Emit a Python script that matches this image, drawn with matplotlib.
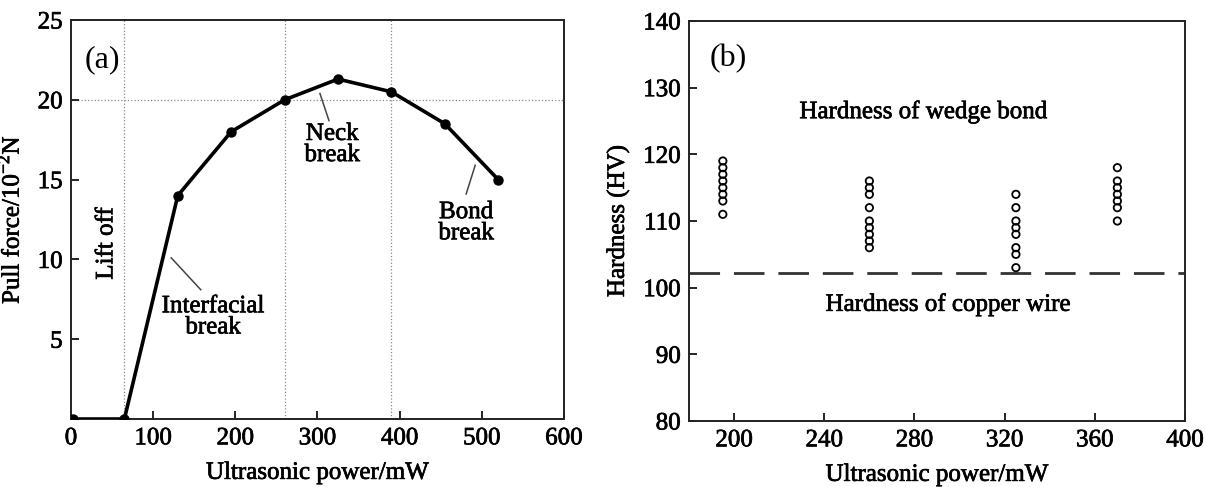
import matplotlib.pyplot as plt
import matplotlib.patheffects as pe

plt.rcParams['font.family'] = ['Liberation Serif', 'DejaVu Serif']
plt.rcParams['mathtext.fontset'] = 'custom'
plt.rcParams['mathtext.rm'] = 'Liberation Serif'

# (a) pull force vs ultrasonic power
power_a = [3, 65, 130, 195, 260, 325, 390, 455, 520]
force = [0, 0, 14, 18, 20, 21.3, 20.5, 18.5, 15]
grid_x = [65, 260, 390]
grid_y = [20]

# (b) hardness of wedge bonds, several measurements per power level
power_b = [195, 260, 325, 370]
hardness = [
    [119, 118, 117, 116, 115, 114, 113, 111],
    [116, 115, 114, 112, 110, 109, 108, 107, 106],
    [114, 112, 110, 109, 108, 106, 105, 103],
    [118, 116, 115, 114, 113, 112, 110],
]
wire_hardness = 102.2

fs = 18
# slightly heavier strokes on all text
heavy = [pe.withStroke(linewidth=0.5, foreground='black')]

fig = plt.figure(figsize=(12.05, 4.87), dpi=100)
ax1 = fig.add_axes([0.0589, 0.1396, 0.4091, 0.8193])
ax2 = fig.add_axes([0.5718, 0.1355, 0.4116, 0.8214])

for ax in (ax1, ax2):
    for s in ax.spines.values():
        s.set_linewidth(1.4)
        s.set_color('#222222')
    ax.tick_params(direction='in', length=6, width=1.2, labelsize=fs,
                   top=False, right=False, pad=6)

# ---- panel a ----
for gx in grid_x:
    ax1.axvline(gx, color='#888888', lw=0.9, ls=':', zorder=1)
for gy in grid_y:
    ax1.axhline(gy, color='#888888', lw=0.9, ls=':', zorder=1)
ax1.plot(power_a, force, color='black', lw=2.6, marker='o', ms=6.5, zorder=3)
ax1.set_xlim(0, 600)
ax1.set_ylim(0, 25)
ax1.set_xticks(range(0, 601, 100))
ax1.set_yticks([5, 10, 15, 20, 25])
ax1.set_xlabel('Ultrasonic power/mW', fontsize=fs, labelpad=9)
ax1.set_ylabel('Pull force/10$^{-2}$N', fontsize=fs, labelpad=10)
ax1.text(37.7, 22.5, '(a)', fontsize=23, ha='center', va='center')
ax1.text(43, 11, 'Lift off', fontsize=fs, rotation=90, ha='center', va='center')
ax1.text(173, 6.4, 'Interfacial\nbreak', fontsize=fs, ha='center', va='center',
         linespacing=0.95)
ax1.plot([122, 158], [10.1, 8.1], color='#444444', lw=1.1)
ax1.text(318, 17.2, 'Neck\nbreak', fontsize=fs, ha='center', va='center',
         linespacing=0.95)
ax1.plot([303, 314], [20.4, 18.7], color='#444444', lw=1.1)
ax1.text(481, 12.3, 'Bond\nbreak', fontsize=fs, ha='center', va='center',
         linespacing=0.95)
ax1.plot([492, 481], [15.9, 14.1], color='#444444', lw=1.1)

# ---- panel b ----
for x, vals in zip(power_b, hardness):
    ax2.scatter([x] * len(vals), vals, s=28, facecolors='none',
                edgecolors='black', linewidths=1.3, zorder=3)
ax2.axhline(wire_hardness, color='#333333', lw=2, dashes=(11, 5), zorder=2)
ax2.set_xlim(180, 400)
ax2.set_ylim(80, 140)
ax2.set_xticks(range(200, 401, 40))
ax2.set_yticks(range(80, 141, 10))
ax2.set_xlabel('Ultrasonic power/mW', fontsize=fs, labelpad=9)
ax2.set_ylabel('Hardness (HV)', fontsize=fs, labelpad=10)
ax2.text(197.3, 134.3, '(b)', fontsize=23, ha='center', va='center')
ax2.text(284, 126.4, 'Hardness of wedge bond', fontsize=fs, ha='center', va='center')
ax2.text(295, 97.5, 'Hardness of copper wire', fontsize=fs, ha='center', va='center')

for ax in (ax1, ax2):
    texts = ax.get_xticklabels() + ax.get_yticklabels() + ax.texts
    texts += [ax.xaxis.label, ax.yaxis.label]
    for t in texts:
        if t.get_text() not in ('(a)', '(b)'):
            t.set_path_effects(heavy)

fig.savefig('out.png', dpi=100)
